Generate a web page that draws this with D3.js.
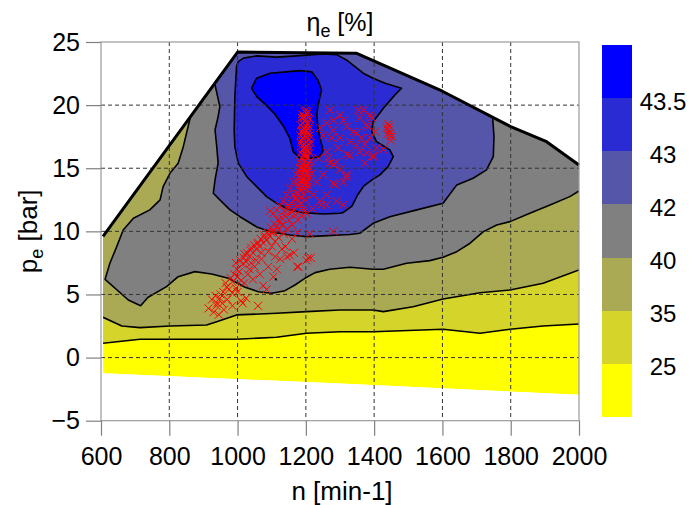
<!DOCTYPE html>
<html><head><meta charset="utf-8">
<script src="https://cdn.jsdelivr.net/npm/d3@7"></script>
<style>
html,body{margin:0;padding:0;background:#fff;}
svg{display:block;font-family:"Liberation Sans",Arial,Helvetica,sans-serif;}
</style></head><body>
<svg id="chart" width="689" height="505"></svg>
<script>
// ---- axis ticks ----
const nTicks = [600, 800, 1000, 1200, 1400, 1600, 1800, 2000];
const peTicks = [-5, 0, 5, 10, 15, 20, 25];

// ---- efficiency levels [%] (band boundaries, bottom to top) ----
const levels = [25, 35, 40, 42, 43, 43.5];

// ---- map envelope: full-load line and lower limit  [n, pe] ----
const envTop = [[606, 9.6], [1000, 24.2], [1349, 24.1], [1600, 21.1], [1800, 18.3], [1905, 17.1], [2000, 15.26]];
const envBottom = [[2000, -2.95], [1300, -2.05], [606, -1.25]];

// ---- iso-efficiency lines [n, pe] ----
const iso25 = [[606, 1.13], [714, 1.45], [997, 1.45], [1114, 1.61], [1202, 1.93], [1300, 2.05], [1397, 2.05],
  [1602, 2.24], [1710, 1.93], [1798, 2.24], [1895, 2.5], [2000, 2.66]];
const iso35 = [[606, 3.19], [661, 2.5], [714, 2.37], [802, 2.5], [909, 2.58], [939, 2.84], [997, 3.38], [1114, 3.51],
  [1202, 3.64], [1300, 3.77], [1397, 3.77], [1427, 3.64], [1514, 4.03], [1602, 4.64], [1710, 5.14], [1798, 5.36],
  [1895, 5.89], [2000, 6.94]];
const iso40 = [[852, 20.2], [861, 18.96], [841, 16.71], [826, 15.4], [802, 14.6], [782, 13.54], [773, 12.49], [743, 11.7],
  [695, 11.04], [665, 10.11], [646, 8.79], [626, 7.47], [612, 6.2], [680, 4.56], [716, 4.11], [738, 4.78], [792, 5.62],
  [826, 6.41], [875, 6.81], [924, 6.62], [973, 6.28], [1022, 5.57], [1061, 5.22], [1100, 5.1], [1139, 5.3], [1168, 5.75],
  [1197, 6.28], [1227, 6.73], [1270, 7.0], [1329, 7.16], [1397, 7.0], [1427, 7.0], [1495, 7.47], [1563, 7.68],
  [1602, 7.95], [1642, 8.39], [1681, 9.06], [1720, 9.98], [1759, 10.51], [1798, 10.77], [1856, 11.43], [1915, 12.09],
  [1973, 12.75], [2000, 13.2]];
const iso42 = [[928, 23.0], [934, 21.6], [948, 19.88], [943, 19.09], [934, 18.03], [939, 16.71], [943, 15.4], [934, 14.07],
  [929, 13.02], [948, 12.49], [978, 11.7], [1007, 11.16], [1056, 10.35], [1095, 9.98], [1153, 9.71], [1202, 9.58],
  [1251, 9.64], [1300, 9.71], [1329, 9.75], [1358, 9.85], [1397, 10.64], [1446, 11.16], [1525, 11.7], [1602, 12.23],
  [1642, 13.68], [1690, 14.21], [1729, 14.87], [1749, 15.92], [1751, 17.5], [1747, 19.04], [1752, 20.5]];
const iso43 = [[1002, 23.45], [1017, 23.72], [1056, 23.9], [1114, 23.8], [1173, 23.9], [1251, 24.06], [1290, 24.0],
  [1319, 23.58], [1368, 22.53], [1397, 22.13], [1432, 21.74], [1480, 21.34], [1461, 20.81], [1427, 19.75], [1397, 18.69],
  [1393, 17.9], [1407, 17.11], [1446, 16.45], [1456, 15.92], [1441, 15.13], [1417, 14.47], [1395, 14.1], [1370, 13.6],
  [1352, 12.9], [1335, 12.0], [1310, 11.5], [1300, 11.43], [1251, 11.38], [1192, 11.48], [1153, 11.7], [1114, 12.23],
  [1085, 12.75], [1056, 13.54], [1027, 14.33], [1002, 15.4], [992, 16.71], [990, 18.03], [992, 20.67], [997, 23.05]];
const iso435 = [[1041, 21.34], [1056, 22.13], [1095, 22.53], [1183, 22.73], [1218, 22.63], [1235, 22.0], [1246, 21.21],
  [1236, 20.02], [1232, 19.22], [1236, 18.17], [1241, 17.38], [1251, 16.45], [1241, 15.92], [1212, 15.79], [1183, 15.79],
  [1163, 16.32], [1153, 17.38], [1134, 18.35], [1109, 19.3], [1080, 20.1], [1056, 20.67]];

// ---- measured operating points [n, pe] ----
const opColumn = [[1197, 19.5], [1203, 19.3], [1193, 19.1], [1207, 19.0], [1199, 18.8], [1190, 18.6], [1204, 18.5],
  [1210, 18.3], [1195, 18.2], [1201, 18.0], [1188, 17.9], [1206, 17.8], [1198, 17.6], [1192, 17.4], [1209, 17.3],
  [1202, 17.1], [1186, 17.0], [1196, 16.9], [1205, 16.7], [1191, 16.5], [1200, 16.4], [1211, 16.2], [1194, 16.0],
  [1203, 15.9], [1188, 15.8], [1198, 15.6], [1207, 15.4], [1192, 15.3], [1201, 15.1], [1185, 15.0], [1196, 14.9],
  [1206, 14.7], [1190, 14.6], [1199, 14.4], [1183, 14.3], [1194, 14.2], [1204, 14.0], [1187, 13.9], [1197, 13.7],
  [1180, 13.6], [1191, 13.5], [1202, 13.3], [1185, 13.2], [1175, 13.0], [1195, 12.9], [1212, 18.9], [1214, 17.0],
  [1213, 15.6], [1188, 19.0], [1185, 16.2], [1209, 14.2], [1200, 19.6], [1194, 17.9], [1202, 16.0], [1198, 14.8],
  [1189, 19.3], [1206, 19.5], [1196, 19.0], [1185, 18.4], [1208, 18.1], [1193, 17.7], [1203, 17.5], [1187, 17.2],
  [1211, 17.6], [1197, 16.6], [1189, 16.8], [1207, 16.4], [1183, 15.5], [1195, 15.5], [1204, 15.2], [1210, 15.0],
  [1189, 14.9], [1201, 14.6], [1181, 14.7], [1192, 13.9], [1207, 13.6], [1178, 13.9], [1186, 12.7], [1199, 12.5],
  [1172, 12.6], [1201, 18.3], [1192, 18.0], [1206, 16.9], [1198, 16.2], [1184, 17.6]];
const opLower = [[1185, 12.2], [1175, 12.0], [1165, 11.7], [1155, 11.4], [1140, 11.2], [1125, 10.8], [1115, 10.4],
  [1105, 10.0], [1095, 9.6], [1085, 9.3], [1075, 9.1], [1065, 8.8], [1055, 8.6], [1045, 8.3], [1035, 8.0], [1025, 7.6],
  [1015, 7.4], [1005, 6.8], [1000, 6.4], [985, 6.0], [975, 5.4], [950, 5.0], [940, 4.3], [930, 3.6], [915, 3.9],
  [960, 3.8], [970, 4.6], [945, 3.4], [1015, 4.3], [1060, 4.1], [1020, 5.9], [1045, 6.2], [1065, 6.6], [1075, 5.7],
  [1085, 5.4], [1105, 6.4], [1115, 7.0], [1090, 7.2], [1125, 7.8], [1145, 8.0], [1165, 8.3], [1175, 7.2], [1215, 7.9],
  [1140, 8.8], [1130, 8.6], [1110, 8.0], [1070, 7.8], [1050, 7.2], [1035, 7.0], [995, 5.5], [965, 5.9], [935, 4.9],
  [925, 4.6], [955, 4.3], [985, 4.1], [1010, 4.5], [1025, 4.7], [995, 7.5], [1020, 8.2], [1040, 8.7], [1060, 9.1],
  [1080, 9.5], [1100, 9.9], [1120, 10.1], [1130, 10.5], [1150, 10.9], [1170, 11.3], [1195, 11.6], [1220, 11.8],
  [1245, 12.1], [1183, 15.0], [1173, 14.5], [1164, 13.9], [1154, 13.4], [1144, 12.9], [1134, 12.4], [1125, 12.0],
  [1115, 11.7], [1105, 11.4], [1095, 11.6], [1164, 12.9], [1178, 12.4], [1193, 11.8], [1203, 11.4], [1149, 12.1],
  [1159, 11.6], [1183, 13.4], [1193, 14.1], [1202, 7.7], [1207, 7.9], [1153, 8.1], [1178, 7.2], [1280, 10.0], [1212, 9.8],
  [1168, 12.6], [1158, 12.2], [1148, 11.8], [1137, 11.6], [1128, 11.1], [1118, 10.9], [1108, 10.6], [1098, 10.3],
  [1088, 9.9], [1078, 9.7], [1068, 9.4], [1058, 9.0], [1048, 8.9], [1038, 8.5], [1028, 8.3], [1018, 7.9], [1008, 7.7],
  [998, 7.0], [990, 6.6], [980, 6.3], [968, 5.6], [958, 5.2], [948, 4.7], [938, 4.1], [1090, 8.4], [1100, 8.8],
  [1110, 9.2], [1120, 9.5], [1135, 9.8], [1145, 10.2], [1160, 10.5], [1176, 10.9], [1188, 11.2], [1070, 8.3],
  [1055, 7.7], [1040, 7.5], [1030, 6.6], [1010, 6.1], [1000, 5.2], [985, 5.1], [1160, 9.4], [1175, 9.9]];
const opUpper = [[1242, 18.2], [1261, 18.6], [1281, 18.8], [1300, 19.2], [1271, 19.6], [1310, 18.8], [1320, 18.3],
  [1339, 17.9], [1359, 19.0], [1369, 19.6], [1378, 18.4], [1388, 17.4], [1403, 17.9], [1300, 17.4], [1330, 17.1],
  [1349, 16.8], [1359, 16.3], [1378, 16.2], [1398, 15.9], [1320, 16.1], [1290, 15.5], [1281, 15.3], [1300, 14.9],
  [1320, 14.5], [1310, 13.9], [1286, 13.7], [1261, 12.9], [1290, 12.4], [1310, 12.1], [1242, 12.4], [1232, 13.9],
  [1251, 14.5], [1261, 16.3], [1251, 17.6], [1276, 17.4], [1295, 16.6], [1237, 15.8], [1266, 15.8], [1217, 14.6],
  [1203, 13.9], [1222, 12.9], [1261, 12.1], [1354, 19.6], [1388, 19.2], [1393, 19.0], [1383, 18.3], [1363, 17.4],
  [1373, 16.9], [1407, 16.6], [1397, 16.0], [1373, 15.4], [1329, 16.0], [1319, 14.3], [1280, 13.8], [1270, 15.4],
  [1280, 18.0], [1427, 16.5], [1349, 17.8]];
const opCluster = [[1437, 18.2], [1442, 18.0], [1446, 17.8], [1451, 17.5], [1444, 18.3], [1448, 17.6], [1439, 17.7],
  [1441, 18.5], [1449, 17.2]];
const refPoint = [[1112, 6.2]];

// ---- band fill colours, lowest band first ----
const bandColors = ["#ffff00", "#d4d42b", "#aaaa55", "#808080", "#5555aa", "#2b2bd4", "#0000ff"];

// ---- layout ----
const svg = d3.select("#chart");
const plot = {left: 101, right: 579, top: 42, bottom: 420.7};
const x = d3.scaleLinear().domain([600, 2000]).range([plot.left, plot.right]);
const y = d3.scaleLinear().domain([-5, 25]).range([plot.bottom, plot.top]);
const line = d3.line().x(d => x(d[0])).y(d => y(d[1]));
const closedLine = d3.line().x(d => x(d[0])).y(d => y(d[1])).curve(d3.curveLinearClosed);

// clip everything to the map envelope
const envelope = envTop.concat(envBottom);
svg.append("defs").append("clipPath").attr("id", "env")
  .append("path").attr("d", closedLine(envelope));

const map = svg.append("g").attr("clip-path", "url(#env)");

// base band (below lowest level)
map.append("path").attr("d", closedLine(envelope)).attr("fill", bandColors[0]);

// region above an open iso-line: close it far outside the envelope
function openRegion(pts) {
  const a = pts[0], b = pts[pts.length - 1];
  return pts.concat([[b[0] + 20, b[1]], [b[0] + 20, 30], [a[0] - 20, 30], [a[0] - 20, a[1]]]);
}
const isoLines = [
  {pts: iso25, closed: false},
  {pts: iso35, closed: false},
  {pts: iso40, closed: false},
  {pts: iso42, closed: false},
  {pts: iso43, closed: true},
  {pts: iso435, closed: true}
];
isoLines.forEach((c, i) => {
  map.append("path")
    .attr("d", c.closed ? closedLine(c.pts) : closedLine(openRegion(c.pts)))
    .attr("fill", bandColors[i + 1]);
});
isoLines.forEach(c => {
  map.append("path")
    .attr("d", c.closed ? closedLine(c.pts) : line(c.pts))
    .attr("fill", "none").attr("stroke", "#000").attr("stroke-width", 1.6)
    .attr("stroke-linejoin", "round");
});

// dashed grid
const grid = svg.append("g").attr("stroke", "#333").attr("stroke-width", 1).attr("stroke-dasharray", "4,3");
nTicks.slice(1, -1).forEach(v => grid.append("line")
  .attr("x1", x(v)).attr("x2", x(v)).attr("y1", plot.top).attr("y2", plot.bottom));
peTicks.slice(1, -1).forEach(v => grid.append("line")
  .attr("x1", plot.left).attr("x2", plot.right).attr("y1", y(v)).attr("y2", y(v)));

// operating points
const cross = "M-4,-4L4,4M-4,4L4,-4";
const ops = svg.append("g").attr("stroke", "#ff0000").attr("stroke-width", 1).attr("fill", "none");
[opColumn, opLower, opUpper, opCluster].forEach(set => {
  ops.selectAll(null).data(set).enter().append("path")
    .attr("d", cross)
    .attr("transform", d => `translate(${x(d[0])},${y(d[1])})`);
});
svg.selectAll(null).data(refPoint).enter().append("rect")
  .attr("x", d => x(d[0]) - 1).attr("y", d => y(d[1]) - 1).attr("width", 2).attr("height", 2).attr("fill", "#000");

// full-load line
svg.append("path").attr("d", line(envTop)).attr("fill", "none")
  .attr("stroke", "#000").attr("stroke-width", 3).attr("stroke-linejoin", "round");

// frame
svg.append("rect").attr("x", plot.left).attr("y", plot.top)
  .attr("width", plot.right - plot.left).attr("height", plot.bottom - plot.top)
  .attr("fill", "none").attr("stroke", "#9a9a9a").attr("stroke-width", 1.2);

// axes
const xAxis = svg.append("g").attr("transform", `translate(0,${plot.bottom})`)
  .call(d3.axisBottom(x).tickValues(nTicks).tickFormat(d3.format("d")).tickSize(15).tickPadding(12).tickSizeOuter(0));
const yAxis = svg.append("g").attr("transform", `translate(${plot.left},0)`)
  .call(d3.axisLeft(y).tickValues(peTicks).tickFormat(d3.format("d")).tickSize(15).tickPadding(6).tickSizeOuter(0));
[xAxis, yAxis].forEach(g => {
  g.select(".domain").remove();
  g.selectAll(".tick line").attr("stroke", "#808080").attr("stroke-width", 1.2);
  g.selectAll(".tick text").attr("fill", "#000").style("font-size", "25px")
    .style("font-family", "'Liberation Sans', Arial, sans-serif");
});

// axis titles
svg.append("text").attr("x", (plot.left + plot.right) / 2 + 2).attr("y", 500)
  .attr("text-anchor", "middle").style("font-size", "26px").text("n [min-1]");
const yt = svg.append("text").attr("transform", `translate(37,${(plot.top + plot.bottom) / 2}) rotate(-90)`)
  .attr("text-anchor", "middle").style("font-size", "26px");
yt.append("tspan").text("p");
yt.append("tspan").attr("dy", 6).style("font-size", "18px").text("e");
yt.append("tspan").attr("dy", -6).text(" [bar]");

const title = svg.append("text").attr("x", (plot.left + plot.right) / 2).attr("y", 31)
  .attr("text-anchor", "middle").style("font-size", "25px");
title.append("tspan").text("η");
title.append("tspan").attr("dy", 6).style("font-size", "18px").text("e");
title.append("tspan").attr("dy", -6).text(" [%]");

// colour bar
const cb = {x: 602, w: 30, top: 45, bottom: 417};
const cbScale = d3.scaleLinear().domain([0, bandColors.length]).range([cb.bottom, cb.top]);
svg.append("g").selectAll("rect").data(bandColors).enter().append("rect")
  .attr("x", cb.x).attr("width", cb.w)
  .attr("y", (d, i) => cbScale(i + 1)).attr("height", (d, i) => cbScale(i) - cbScale(i + 1))
  .attr("fill", d => d).attr("shape-rendering", "crispEdges");
svg.append("g").selectAll("text").data(levels).enter().append("text")
  .attr("x", 663).attr("y", (d, i) => cbScale(i + 1) + 3).attr("dy", "0.35em")
  .attr("text-anchor", "middle").style("font-size", "24px").text(d => d);
</script>
</body></html>
